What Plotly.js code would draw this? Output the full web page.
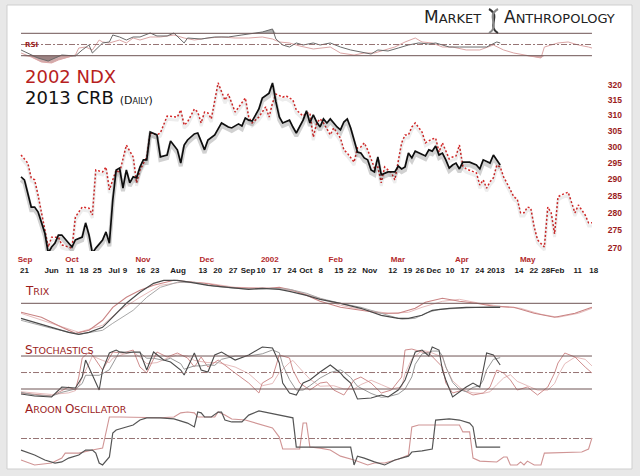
<!DOCTYPE html>
<html>
<head>
<meta charset="utf-8">
<script src="https://cdn.plot.ly/plotly-3.0.1.min.js"></script>
<style>html,body{margin:0;padding:0;background:#e8e8e8;}#chart{width:640px;height:476px;}</style>
</head>
<body>
<div id="chart"></div>
<script>
// ---------- DATA (session index = trading day from start) ----------
const ndxX = [0,2,3,4,5,6,7,8,9,11,12,15,16,18,20,21,22,24,25,26,28,29,31,33,34,35,37,38,40,41,43,46,47,48,49,51,52,53,54,55,56,58,60,61,63,66,67,68,70,72,73,74,75,77,78,80,81,83,84,85,86,87,88,89,91,92,94,95,96,98,99,100,101,102,104,105,106,107,109,110,112,113,114,115,116,118,119,121,122,123,124,126,127,128,129,130,131,133,134,135,136,137,138,139,140,141,142,144,145,146,147,148,149,150,151,152,154,155,156,157,158,159,161,163,164,166,167,168];
const ndxClose = [297.5,295.0,290.5,289.9,285.4,280.1,275.1,270.3,273.1,273.1,270.9,270.0,278.9,281.8,281.5,279.5,292.9,292.3,293.8,286.9,292.9,292.0,300.6,296.9,289.0,292.9,296.9,304.4,303.8,304.4,309.8,309.5,311.8,306.9,307.9,312.1,311.1,307.6,311.1,310.8,308.9,320.7,315.0,317.0,311.1,315.7,309.5,307.6,309.5,312.8,309.5,314.1,317.0,316.0,316.4,315.0,311.8,309.8,310.8,310.8,303.1,307.6,308.9,307.6,303.8,306.0,302.8,299.1,298.1,295.3,299.7,300.0,301.3,299.1,293.5,293.8,289.0,293.8,292.0,289.9,301.3,303.8,303.8,306.3,307.6,304.7,301.3,302.5,302.8,298.4,301.3,296.3,296.9,297.2,300.6,294.1,293.2,292.3,292.0,288.3,289.9,287.4,289.3,290.5,294.4,293.8,290.8,286.9,284.8,284.2,280.1,280.1,281.8,281.5,276.0,272.3,270.3,281.8,280.1,274.0,284.8,285.4,286.2,280.1,282.4,279.5,277.2,277.2];

const crbX = [0,1,3,4,5,7,8,9,10,11,12,14,15,16,18,19,20,21,22,24,25,26,27,28,29,30,31,32,33,34,35,36,37,38,40,41,43,44,46,47,48,49,51,52,54,55,57,59,61,62,64,65,66,67,68,70,71,73,74,75,76,77,79,80,81,83,84,85,86,87,88,89,90,91,92,93,94,95,96,97,99,100,101,102,103,104,105,106,108,110,111,112,113,114,115,116,119,120,121,122,123,124,125,126,127,128,129,130,132,134,135,136,138,139,141];
const crbClose = [290.8,289.9,281.8,281.8,280.4,274.3,268.6,270.3,271.4,273.7,273.7,271.4,270.3,272.3,273.1,277.2,273.7,268.6,270.0,272.3,274.6,271.4,283.9,292.9,293.5,287.4,292.9,289.0,290.8,290.5,293.8,296.0,296.0,304.7,303.8,296.9,297.5,301.9,299.1,295.0,300.6,302.2,304.1,304.4,299.1,302.2,303.8,307.6,306.3,306.0,307.3,306.6,309.2,308.5,308.2,312.1,315.7,317.3,320.7,314.4,309.5,307.6,308.5,306.3,304.4,308.5,311.5,307.6,310.2,307.9,306.3,308.9,307.6,308.9,307.6,306.3,305.4,307.9,308.9,306.0,298.4,298.1,296.6,296.0,292.9,292.3,296.9,291.4,292.3,292.3,294.1,293.2,293.8,298.1,296.6,298.7,297.2,299.1,298.7,300.3,297.5,298.1,296.0,293.5,294.4,295.0,293.2,295.3,295.3,294.4,293.2,296.0,295.0,297.5,294.4];

// RSI
const crbRsiX = [0,2,5,8,10,12,16,18,20,21,24,26,27,29,31,33,35,38,40,43,45,48,49,53,57,61,65,69,71,74,75,77,79,81,83,86,88,91,94,97,100,103,105,108,111,114,117,120,122,126,129,133,137,140,141];
const crbRsi = [40.2,34.8,25.9,20.5,25.9,31.2,29.5,40.2,49.1,34.8,52.7,54.5,67,63.4,58,63.4,63.4,70.5,65.2,65.2,70.5,52.7,61.6,59.8,63.4,63.4,67,70.5,72.3,77.7,59.8,49.1,45.5,52.7,49.1,52.7,49.1,52.7,45.5,40.2,36.6,33,40.2,38.4,43.7,49.1,52.7,50.9,52.7,45.5,45.5,45.5,45.5,54.5,52.7];
const ndxRsiX = [0,3,6,9,11,14,16,17,19,21,23,24,26,29,31,33,35,38,41,45,48,51,55,59,63,67,71,74,76,79,82,86,88,91,94,98,101,104,107,110,113,116,118,121,124,127,131,135,139,142,145,148,151,153,154,156,158,161,164,167,168];
const ndxRsi = [34.8,27.7,18.7,17,22.3,27.7,31.2,43.7,45.5,40.2,58,54.5,52.7,58,52.7,61.6,58,63.4,63.4,67,61.6,58,61.6,63.4,61.6,61.6,63.4,59.8,54.5,52.7,47.3,42,43.7,45.5,34.8,31.2,34.8,34.8,40.2,45.5,54.5,61.6,54.5,52.7,45.5,45.5,40.2,40.2,49.1,40.2,34.8,31.2,27.7,25.9,45.5,49.1,52.7,54.5,49.1,45.5,43.7];
const rsiLevels = [30, 50, 70];

// TRIX
const crbTrixX = [0,4,9,14,17,20,24,27,31,35,39,42,46,50,55,61,67,71,76,79,84,88,94,100,106,111,114,118,121,126,131,137,141];
const crbTrix = [-0.15,-0.19,-0.24,-0.29,-0.31,-0.29,-0.24,-0.14,0.00,0.11,0.20,0.23,0.23,0.21,0.18,0.16,0.14,0.15,0.14,0.12,0.08,0.04,0.00,-0.05,-0.12,-0.15,-0.15,-0.12,-0.07,-0.05,-0.04,-0.04,-0.04];
const crbTrixSigX = [0,9,17,24,27,33,37,41,46,51,57,63,69,74,79,84,88,94,100,106,112,116,119,123,129,135,141];
const crbTrixSig = [-0.17,-0.25,-0.31,-0.27,-0.20,-0.07,0.06,0.16,0.21,0.21,0.17,0.15,0.14,0.15,0.14,0.10,0.05,0.00,-0.04,-0.10,-0.16,-0.15,-0.10,-0.06,-0.05,-0.04,-0.03];
const ndxTrixX = [0,6,12,16,20,24,27,31,35,39,45,49,54,61,67,73,76,80,84,88,94,100,106,111,116,119,124,129,134,139,145,151,157,163,168];
const ndxTrix = [-0.09,-0.14,-0.24,-0.30,-0.27,-0.17,-0.04,0.06,0.13,0.18,0.23,0.22,0.20,0.16,0.15,0.15,0.16,0.13,0.08,0.02,-0.04,-0.07,-0.10,-0.10,-0.05,0.01,0.05,0.02,0.00,-0.03,-0.04,-0.10,-0.14,-0.10,-0.04];
const ndxTrixSigX = [0,9,17,24,29,35,41,47,55,63,71,76,82,88,94,100,108,114,118,124,129,135,141,147,153,158,164,168];
const ndxTrixSig = [-0.10,-0.20,-0.29,-0.22,-0.07,0.06,0.18,0.21,0.20,0.16,0.15,0.15,0.11,0.05,-0.02,-0.06,-0.10,-0.09,-0.04,0.02,0.04,0.00,-0.03,-0.05,-0.11,-0.14,-0.10,-0.05];

// Stochastics
const crbStochX = [0,4,9,12,16,18,19,23,24,26,28,29,31,33,35,37,39,42,44,47,48,51,53,55,57,59,63,67,71,74,76,77,79,81,83,85,88,91,94,95,97,99,103,106,108,111,113,115,116,118,120,121,123,124,125,127,129,131,133,135,136,137,139,141];
const crbStochK = [10.9,7.3,5.5,23.6,21.8,41.8,72.7,18.2,54.5,85.5,90.9,87.3,85.5,87.3,87.3,54.5,87.3,72.7,69.1,54.5,45.5,85.5,54.5,50.9,81.8,87.3,72.7,81.8,96.4,94.5,67.3,30.9,12.7,9.1,30.9,36.4,51,63.6,49.1,41.8,30.9,1.8,3.6,9.1,5.5,18.2,36.4,72.7,87.3,90.9,80,96.4,90.9,54.5,36.4,5.5,14.5,23.6,30.9,23.6,54.5,85.5,81.8,63.6];
const crbStochD = [14,9,7,14,20,30,45,45,48,55,77,88,87,86,86,76,76,72,76,66,56,62,62,64,63,74,80,80,84,91,86,64,37,18,18,26,40,50,55,51,41,25,12,5,6,11,20,42,65,84,86,89,89,80,60,32,19,15,23,26,36,55,74,77];
const ndxStochX = [0,9,14,16,17,18,20,21,24,26,27,30,33,35,37,40,43,46,49,51,53,55,58,63,67,70,71,74,76,79,80,82,85,88,90,92,95,98,100,103,106,109,112,113,115,118,120,124,125,127,130,133,136,138,140,142,144,146,149,152,155,157,158,160,163,166,168];
const ndxStochK = [12.7,7.3,23.6,18.2,41.8,76.4,87.3,81.8,54.5,78.2,87.3,85.5,90.9,60,49.1,87.3,78.2,85.5,76.4,60,78.2,60,72.7,49.1,30.9,12.7,30.9,41.8,81.8,76.4,54.5,30.9,18.2,30.9,32.7,18.2,9.1,36.4,41.8,30.9,12.7,18.2,41.8,90.9,92.7,87.3,85.5,60,30.9,12.7,18.2,9.1,12.7,23.6,54.5,49.1,36.4,18.2,23.6,9.1,23.6,49.1,67.3,85.5,78.2,60,49.1];
const ndxStochD = [15,10,13,17,25,42,66,80,72,68,76,83,87,78,66,68,76,82,80,72,70,68,68,60,48,32,26,30,50,68,72,58,38,25,26,26,20,20,28,36,28,20,24,48,75,90,88,78,60,35,18,13,12,15,28,40,46,34,26,18,18,30,44,66,78,74,62];
const stochLevels = [20, 50, 80];

// Aroon Oscillator
const crbAroonX = [0,4,7,10,12,14,17,19,21,22,23,24,26,27,28,31,33,35,37,41,45,49,51,52,53,54,56,58,59,60,62,65,67,70,73,76,80,81,88,97,98,99,101,104,107,110,114,115,118,121,122,126,129,132,133,134,141];
const crbAroon = [-42,-60,-78,-89,-85,-71,-60,-42,-42,-53,-89,-96,-67,20,31,42,49,67,75,75,71,56,42,96,93,78,78,96,96,67,60,60,85,100,93,85,75,-31,-31,-31,-96,-64,-71,-85,-96,-78,-64,-49,-45,-38,67,71,67,56,42,-31,-31];
const ndxAroonX = [0,4,9,12,13,17,21,24,26,29,41,45,47,49,51,52,57,58,60,62,66,69,73,74,76,77,82,83,84,85,88,91,94,98,102,104,107,111,114,115,117,129,130,132,133,135,140,142,143,144,146,147,148,149,151,153,154,165,167,168];
const ndxAroon = [-78,-96,-89,-71,-53,-53,-42,-35,78,78,75,78,93,96,93,78,78,96,85,71,67,56,42,38,5,-38,-38,56,56,-31,-35,-42,-64,-78,-96,-89,-89,-75,-60,42,49,49,24,24,-71,-82,-85,-67,-67,-96,-96,-85,-96,-82,-96,-96,-53,-49,-38,2];

// Axis tick labels
const dayTickVals = [1,9,14.4,18.5,22.4,27.4,30.6,35.3,39.4,46.2,53.5,57.9,62.4,66.8,70.6,75.3,79.7,83.8,88.2,93.5,97.4,102.6,109.4,113.8,117.4,121.5,126.2,130.6,135,139.7,146.5,150.9,156.5,163.8,168.5];
const dayTickText = ['21','Jun','11','18','25','Jul','9','16','23','Aug','13','20','27','Sep','10','17','24','Oct','8','15','22','Nov','12','19','26','Dec','10','17','24','2013','14','22','28Feb','11','18'];
const monthTickVals = [1.2,15,35.9,54.7,73.2,92.6,110.9,129.7,149.1];
const monthTickText = ['Sep','Oct','Nov','Dec','2002','Feb','Mar','Apr','May'];
const priceTicks = [270,275,280,285,290,295,300,305,310,315,320];

// ---------- LAYOUT HELPERS (page pixels -> paper fractions, margins are 0) ----------
const W = 640, H = 476;
const PX = v => v / W, PY = v => 1 - v / H;
const DR = '#9b1c1c';
const xDom = [PX(20), PX(594)];
const xRange = [-0.3, 168.6];
const mainRange = [Math.log10(269.19), Math.log10(321.67)];
const shadowShift = 0.0014;

function line(x, y, ya, color, width, dash) {
  return {x, y, yaxis: ya, type: 'scatter', mode: 'lines', hoverinfo: 'skip',
          line: {color, width, dash: dash || 'solid'}};
}
function fillPair(x, vals, ya, level, below, color) {
  const base = x.map(() => level);
  const clip = vals.map(v => below ? Math.min(v, level) : Math.max(v, level));
  return [
    {x, y: base, yaxis: ya, type: 'scatter', mode: 'lines', line: {width: 0}, hoverinfo: 'skip'},
    {x, y: clip, yaxis: ya, type: 'scatter', mode: 'lines', line: {width: 0}, fill: 'tonexty', fillcolor: color, hoverinfo: 'skip'}
  ];
}

const traces = [];
// RSI
traces.push(...fillPair(ndxRsiX, ndxRsi, 'y2', 30, true, 'rgba(150,70,70,0.45)'));
traces.push(...fillPair(crbRsiX, crbRsi, 'y2', 30, true, 'rgba(90,80,80,0.45)'));
traces.push(...fillPair(crbRsiX, crbRsi, 'y2', 70, false, 'rgba(110,110,110,0.55)'));
traces.push(line(ndxRsiX, ndxRsi, 'y2', '#dba5a5', 1));
traces.push(line(crbRsiX, crbRsi, 'y2', '#6a6a6a', 1));
// TRIX
traces.push(line(ndxTrixSigX, ndxTrixSig, 'y3', '#e6bcbc', 1));
traces.push(line(ndxTrixX, ndxTrix, 'y3', '#c98383', 1.1));
traces.push(line(crbTrixSigX, crbTrixSig, 'y3', '#a8a8a8', 1));
traces.push(line(crbTrixX, crbTrix, 'y3', '#4a4a4a', 1.2));
// Stochastics
traces.push(line(ndxStochX, ndxStochD, 'y4', '#e6bcbc', 1));
traces.push(line(ndxStochX, ndxStochK, 'y4', '#cf8d8d', 1));
traces.push(line(crbStochX, crbStochD, 'y4', '#9a9a9a', 1));
traces.push(line(crbStochX, crbStochK, 'y4', '#4a4a4a', 1.1));
// Aroon
traces.push(line(ndxAroonX, ndxAroon, 'y5', '#d09595', 1.1));
traces.push(line(crbAroonX, crbAroon, 'y5', '#555555', 1.2));
// Main price panel (shadows drawn on an offset overlay axis)
traces.push(line(ndxX, ndxClose, 'y6', 'rgba(0,0,0,0.07)', 3));
traces.push(line(crbX, crbClose, 'y6', 'rgba(0,0,0,0.18)', 4));
traces.push(line(ndxX, ndxClose, 'y', '#d42a2a', 1.5, '2px,2px'));
traces.push(line(crbX, crbClose, 'y', '#111111', 1.7));
// invisible trace to carry the month axis
traces.push({x: [ndxX[0]], y: [ndxClose[0]], xaxis: 'x2', yaxis: 'y', type: 'scatter', mode: 'markers',
             marker: {opacity: 0}, hoverinfo: 'skip'});

const hidden = {showgrid: false, zeroline: false, showticklabels: false, showline: false, ticks: ''};
const x0 = ndxX[0], x1 = ndxX[ndxX.length - 1];
function hline(yref, val, dashed) {
  return {type: 'line', xref: 'x', yref, x0, x1, y0: val, y1: val,
          line: {color: dashed ? '#8a6464' : '#6e5454', width: dashed ? 0.9 : 1, dash: dashed ? '6px,2px,2px,2px' : 'solid'}};
}
const shapes = [
  {type: 'rect', xref: 'paper', yref: 'paper', x0: PX(7), x1: PX(632), y0: PY(469), y1: PY(5),
   fillcolor: '#ffffff', line: {color: '#cfcfcf', width: 1}, layer: 'below'},
  hline('y2', rsiLevels[0]), hline('y2', rsiLevels[1], true), hline('y2', rsiLevels[2]),
  hline('y3', 0),
  hline('y4', stochLevels[0]), hline('y4', stochLevels[1], true), hline('y4', stochLevels[2]),
  hline('y5', 0, true),
  // DNA helix of the logo
  {type: 'path', xref: 'paper', yref: 'paper', line: {color: '#333', width: 2},
   path: `M ${PX(489)} ${PY(9)} C ${PX(502)} ${PY(16)}, ${PX(486)} ${PY(26)}, ${PX(498)} ${PY(33)}`},
  {type: 'path', xref: 'paper', yref: 'paper', line: {color: '#888', width: 2},
   path: `M ${PX(498)} ${PY(9)} C ${PX(485)} ${PY(16)}, ${PX(501)} ${PY(26)}, ${PX(489)} ${PY(33)}`}
];

const sc = (big, small, a, b) => `<span style="font-size:${big}px">${a}</span><span style="font-size:${small}px">${b}</span>`;
function ann(text, x, y, size, color, extra) {
  return Object.assign({text, xref: 'paper', yref: 'paper', x: PX(x), y: PY(y), xanchor: 'left', yanchor: 'middle',
    showarrow: false, font: {family: 'DejaVu Sans', size, color}}, extra || {});
}
const annotations = [
  ann('2002 NDX', 23, 77, 18, '#b81f1f'),
  ann('2013 CRB <span style="font-size:11px">(D</span><span style="font-size:8px">AILY</span><span style="font-size:11px">)</span>', 23, 97.5, 18, '#111'),
  ann(sc(17, 13, 'M', 'ARKET'), 422, 17, 17, '#222'),
  ann(sc(17, 13, 'A', 'NTHROPOLOGY'), 502, 17, 17, '#222'),
  ann('<b>RSI</b>', 23, 44.5, 7, DR),
  ann(sc(12, 9.5, 'T', 'RIX'), 23, 291, 12, DR),
  ann(sc(12, 9.5, 'S', 'TOCHASTICS'), 23, 350, 12, DR),
  ann(sc(12, 9.5, 'A', 'ROON ') + sc(12, 9.5, 'O', 'SCILLATOR'), 23, 409, 12, DR)
];

const tickFont = {family: 'Liberation Sans', size: 8, color: '#1a1a1a', weight: 'bold'};
const layout = {
  width: W, height: H,
  margin: {l: 0, r: 0, t: 0, b: 0, pad: 0},
  paper_bgcolor: '#e8e8e8', plot_bgcolor: 'rgba(0,0,0,0)',
  showlegend: false, hovermode: false,
  xaxis: {domain: xDom, range: xRange, anchor: 'y', showgrid: false, zeroline: false, showline: false,
          tickmode: 'array', tickvals: dayTickVals, ticktext: dayTickText, tickangle: 0,
          ticks: 'outside', ticklen: 11, tickcolor: 'rgba(0,0,0,0)', tickfont: tickFont},
  xaxis2: {overlaying: 'x', domain: xDom, range: xRange, anchor: 'y', side: 'bottom', showgrid: false, zeroline: false,
           showline: false, tickmode: 'array', tickvals: monthTickVals, ticktext: monthTickText, tickangle: 0,
           ticks: 'outside', ticklen: 0, tickcolor: 'rgba(0,0,0,0)',
           tickfont: Object.assign({}, tickFont, {color: '#b3292b'})},
  yaxis: {domain: [PY(251), PY(80)], type: 'log', range: mainRange, side: 'right', anchor: 'x',
          showgrid: false, zeroline: false, showline: false, tickmode: 'array', tickvals: priceTicks,
          ticktext: priceTicks.map(String), ticks: 'outside', ticklen: 11, tickcolor: 'rgba(0,0,0,0)',
          tickfont: {family: 'Liberation Sans', size: 8.5, color: DR, weight: 'bold'}},
  yaxis6: Object.assign({overlaying: 'y', type: 'log', anchor: 'x',
          range: [mainRange[0] + shadowShift, mainRange[1] + shadowShift]}, hidden),
  yaxis2: Object.assign({domain: [PY(66), PY(24)], range: [11.6, 86.6], anchor: 'x'}, hidden),
  yaxis3: Object.assign({domain: [PY(340), PY(276)], range: [-0.367, 0.273], anchor: 'x'}, hidden),
  yaxis4: Object.assign({domain: [PY(401), PY(342)], range: [-1.8, 105.5], anchor: 'x'}, hidden),
  yaxis5: Object.assign({domain: [PY(468), PY(409)], range: [-107, 107], anchor: 'x'}, hidden),
  shapes, annotations
};

Plotly.newPlot('chart', traces, layout, {staticPlot: true, displayModeBar: false});
</script>
</body>
</html>
